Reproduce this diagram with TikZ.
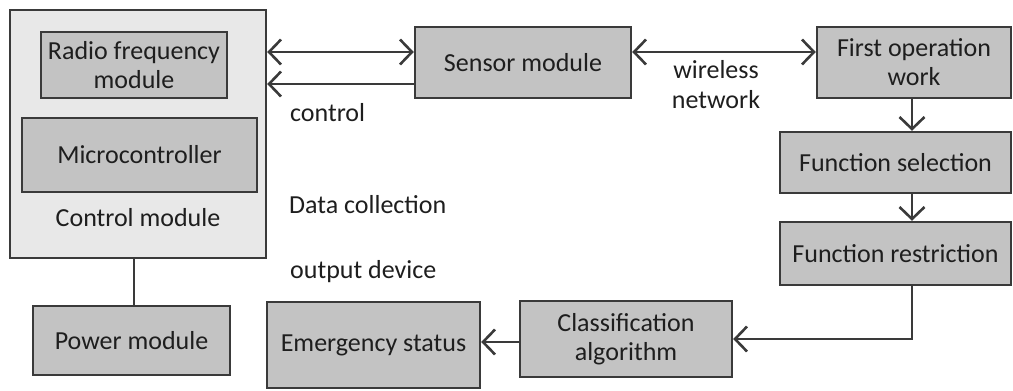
\documentclass[tikz,border=0pt]{standalone}
\usepackage{fontspec}
\setmainfont{Carlito}
\usetikzlibrary{arrows.meta}
\definecolor{boxfill}{HTML}{C3C3C3}
\definecolor{outerfill}{HTML}{E8E8E8}
\definecolor{edge}{HTML}{3A3A3A}
\definecolor{txt}{HTML}{1E1E1E}
\tikzset{
  blk/.style={draw=edge, line width=2.4pt, fill=boxfill, inner sep=0pt, align=center, text=txt, font=\fontsize{26}{29}\selectfont},
  lbl/.style={text=txt, inner sep=0pt, align=center, font=\fontsize{26}{30}\selectfont},
  conn/.style={draw=edge, line width=2.8pt},
  barb/.tip={Straight Barb[length=12pt,width=25pt,line width=2.6pt]},
  tip/.style={-barb},
  dtip/.style={barb-barb}
}
\begin{document}
\begin{tikzpicture}[x=1pt,y=-1pt]
\useasboundingbox (0,0) rectangle (1013,391);
\node[blk, fill=outerfill, minimum width=256pt, minimum height=248pt] (ctrl) at (138,134) {};
\node[blk, minimum width=186pt, minimum height=66pt] (rf) at (134,65) {Radio frequency\\module};
\node[blk, minimum width=235pt, minimum height=74pt] (mc) at (139.5,155) {Microcontroller};
\node[lbl] (ctrltxt) at (138,218) {Control module};
\node[blk, minimum width=197pt, minimum height=69pt] (pwr) at (131.5,340.5) {Power module};
\node[blk, minimum width=216pt, minimum height=71pt] (sens) at (523,62.5) {Sensor module};
\node[blk, minimum width=194pt, minimum height=71pt] (first) at (914,62.5) {First operation\\work};
\node[blk, minimum width=231pt, minimum height=61pt] (fsel) at (895.5,162.5) {Function selection};
\node[blk, minimum width=231pt, minimum height=63pt] (frest) at (895.5,253.5) {Function restriction};
\node[blk, minimum width=212pt, minimum height=76pt] (cls) at (626,339) {Classification\\algorithm};
\node[blk, minimum width=213pt, minimum height=86pt] (emg) at (373.5,345) {Emergency status};
\node[lbl, anchor=west] (lctrl) at (290,113) {control};
\node[lbl, anchor=west] (ldata) at (289,205) {Data collection};
\node[lbl, anchor=west] (lout) at (290,272) {output device};
\node[lbl] (lwire) at (716,85) {wireless\\network};
\coordinate (turn) at (912,339);
% connectors
\draw[conn, dtip] (ctrl.east |- 0,52) -- (sens.west |- 0,52);
\draw[conn, tip] (sens.west |- 0,84) -- (ctrl.east |- 0,84);
\draw[conn, dtip] (sens.east |- 0,52) -- (first.west |- 0,52);
\draw[conn, tip] (first.south -| 912,0) -- (fsel.north -| 912,0);
\draw[conn, tip] (fsel.south -| 912,0) -- (frest.north -| 912,0);
\draw[conn, tip] (frest.south -| turn) -- (turn) -- (cls.east |- turn);
\draw[conn, tip] (cls.west |- 0,342) -- (emg.east |- 0,342);
\draw[conn] (ctrl.south -| 134,0) -- (pwr.north -| 134,0);
\end{tikzpicture}
\end{document}
